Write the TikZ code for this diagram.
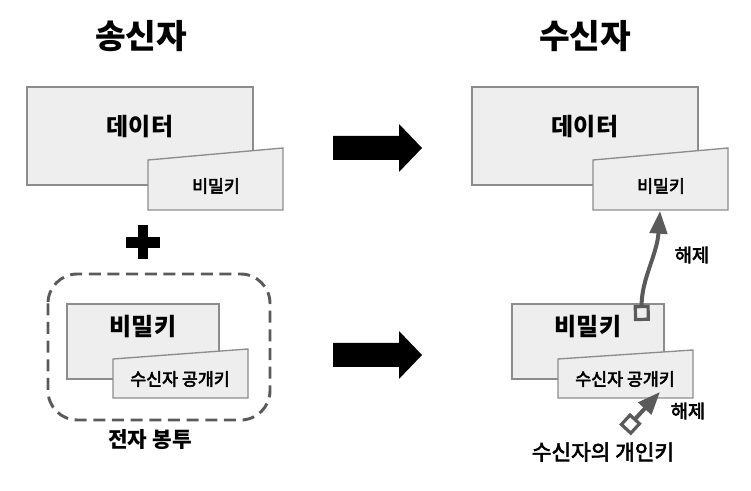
\documentclass[tikz,border=0pt]{standalone}
\usepackage{fontspec}
\setmainfont{Noto Sans CJK KR}
\newfontfamily\medfont[FakeBold=3]{Noto Sans CJK KR}
\usetikzlibrary{arrows.meta}

\definecolor{boxfill}{HTML}{EEEEEE}
\definecolor{boxline}{HTML}{8C8C8C}
\definecolor{keyline}{HTML}{5A5A5A}

\tikzset{
    paper/.style={fill=boxfill, draw=boxline, line width=1pt},
    bigtext/.style={font=\fontsize{18}{20}\selectfont\bfseries},
    smalltext/.style={font=\fontsize{13}{15}\selectfont\medfont},
    openkey/.style={keyline, line width=3pt,
        {Square[open, length=12pt, width=12pt, line width=2.4pt]}-{Triangle[length=17pt, width=13pt]}}
}

\begin{document}
\begin{tikzpicture}[x=0.75pt, y=-0.75pt]

    \useasboundingbox (0,0) rectangle (751,491);

    \node[font=\fontsize{25}{28}\selectfont\bfseries] (sender) at (141,36) {송신자};
    \node[font=\fontsize{25}{28}\selectfont\bfseries] (receiver) at (585,36) {수신자};

    % sender: data + key
    \draw[paper] (27,87) rectangle (253,185);
    \node[bigtext] (data) at (140,127) {데이터};
    \draw[paper] (148,160) -- (283,148) -- (283,210) -- (148,210) -- cycle;
    \node[smalltext] (key) at (216,186) {비밀키};

    \fill (138,225) rectangle (148,259);
    \fill (126,237) rectangle (160,248);

    % envelope
    \draw[keyline, line width=2.2pt, dash pattern=on 9pt off 5pt, rounded corners=22pt]
        (48,274) rectangle (270,420);
    \draw[paper] (67,304) rectangle (219,379);
    \node[bigtext] (envkey) at (143,327) {비밀키};
    \draw[paper] (113,359) -- (248,349) -- (248,398) -- (113,398) -- cycle;
    \node[smalltext] (pubkey) at (180,379) {수신자 공개키};
    \node[font=\fontsize{16}{18}\selectfont\bfseries] (envelope) at (150,440) {전자 봉투};

    \foreach \y in {148,355}
        \fill (333,\y-12) -- (399,\y-12) -- (399,\y-24) -- (422,\y)
            -- (399,\y+24) -- (399,\y+12) -- (333,\y+12) -- cycle;

    % receiver: data + key
    \draw[paper] (472,87) rectangle (698,185);
    \node[bigtext] (rdata) at (585,127) {데이터};
    \draw[paper] (593,160) -- (728,148) -- (728,210) -- (593,210) -- cycle;
    \node[smalltext] (rkey) at (661,186) {비밀키};

    \draw[paper] (512,304) rectangle (664,379);
    \node[bigtext] (renvkey) at (588,327) {비밀키};
    \draw[paper] (558,359) -- (693,350) -- (693,398) -- (558,398) -- cycle;
    \node[smalltext] (rpubkey) at (625,379) {수신자 공개키};
    \node[font=\fontsize{16}{18}\selectfont\medfont] (privkey) at (603,452) {수신자의 개인키};

    \coordinate (lock1) at (642,321);
    \coordinate (open1) at (660,211);
    \coordinate (lock2) at (625,430);
    \coordinate (open2) at (660,392);

    \draw[openkey] (lock1) .. controls (641,280) and (657,255) .. (open1);
    \draw[openkey] (lock2) -- (open2);

    \node[font=\fontsize{14}{16}\selectfont\medfont] (undo1) at (692,255) {해제};
    \node[font=\fontsize{14}{16}\selectfont\medfont] (undo2) at (688,411) {해제};

\end{tikzpicture}
\end{document}
